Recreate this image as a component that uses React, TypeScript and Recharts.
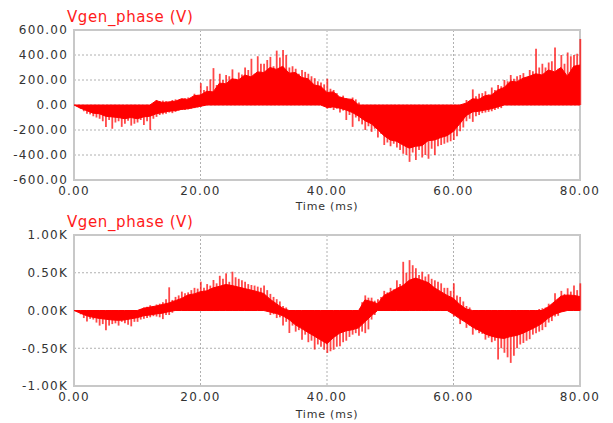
import { ComposedChart, Area, Bar, XAxis, YAxis, CartesianGrid, ReferenceArea } from 'recharts';

// sample instants, ms (one per ms, 0..80); extra spike samples sit half-way between them
const timeMs = Array.from({ length: 81 }, (_, i) => i);
const xTicks = [0, 20, 40, 60, 80];

// upper plot: Vgen_phase (V)
const topBandHi = [
  0, 0, 0, 0, 0, 0, 0, 0, 0, 0,
  0, 0, 0, 35, 20, 25, 30, 50, 45, 75,
  80, 110, 105, 175, 170, 210, 200, 240, 225, 265,
  260, 300, 285, 310, 255, 260, 220, 210, 160, 150,
  100, 105, 65, 50, 45, 0, 0, 0, 0, 0,
  0, 0, 0, 0, 0, 0, 0, 0, 0, 0,
  0, 0, 15, 50, 45, 75, 80, 120, 140, 190,
  185, 215, 230, 250, 240, 280, 265, 300, 230, 310,
  320,
];
const topBandLo = [
  0, -25, -45, -65, -70, -90, -95, -100, -110, -100,
  -110, -95, -90, -70, -60, -50, -45, -35, -30, -20,
  -10, 0, 0, 0, 0, 0, 0, 0, 0, 0,
  0, 0, 0, 0, 0, 0, 0, 0, 0, 0,
  -20, -15, -25, -40, -60, -90, -125, -150, -195, -245,
  -280, -290, -320, -345, -330, -325, -285, -280, -260, -245,
  -210, -150, -85, -55, -50, -40, -30, -15, 0, 0,
  0, 0, 0, 0, 0, 0, 0, 0, 0, 0,
  0,
];
const topSpikeHi = [
  0, 0, 0, 0, 0, 0, 0, 0, 0, 0,
  0, 0, 0, 40, 35, 25, 45, 50, 60, 90,
  175, 150, 295, 250, 240, 285, 260, 300, 370, 390,
  330, 385, 435, 440, 300, 290, 280, 250, 215, 180,
  210, 120, 60, 55, 60, 20, 0, 0, 0, 0,
  0, 0, 0, 0, 0, 0, 0, 0, 0, 0,
  0, 0, 40, 125, 90, 110, 140, 160, 200, 240,
  230, 255, 280, 450, 330, 340, 460, 400, 420, 400,
  528,
];
const topSpikeLo = [
  0, -30, -70, -90, -110, -175, -190, -130, -150, -165,
  -140, -160, -200, -95, -75, -60, -55, -40, -35, -25,
  -15, 0, 0, 0, 0, 0, 0, 0, 0, 0,
  0, 0, 0, 0, 0, 0, 0, 0, 0, 0,
  -30, -40, -60, -120, -175, -130, -200, -215, -260, -320,
  -330, -340, -390, -455, -440, -420, -430, -400, -320, -300,
  -280, -210, -130, -135, -80, -60, -50, -30, 0, 0,
  0, 0, 0, 0, 0, 0, 0, 0, 0, 0,
  0,
];
// spikes at 0.5, 1.5 ... 79.5 ms
const topMidSpikeHi = [
  0, 0, 0, 0, 0, 0, 0, 0, 0, 0,
  0, 0, 0, 30, 30, 40, 35, 55, 50, 80,
  120, 205, 160, 200, 230, 210, 245, 280, 250, 330,
  360, 310, 380, 400, 310, 250, 265, 230, 190, 165,
  130, 95, 75, 40, 45, 0, 0, 0, 0, 0,
  0, 0, 0, 0, 0, 0, 0, 0, 0, 0,
  0, 0, 30, 70, 95, 85, 120, 150, 190, 210,
  240, 220, 270, 300, 300, 350, 290, 330, 390, 410,
];
const topMidSpikeLo = [
  -10, -50, -75, -100, -130, -120, -140, -175, -125, -150,
  -120, -130, -110, -80, -70, -65, -45, -40, -30, -20,
  -5, 0, 0, 0, 0, 0, 0, 0, 0, 0,
  0, 0, 0, 0, 0, 0, 0, 0, 0, 0,
  -25, -30, -45, -80, -100, -155, -170, -190, -230, -300,
  -310, -360, -400, -380, -360, -400, -350, -330, -310, -290,
  -250, -180, -110, -90, -65, -55, -40, -25, 0, 0,
  0, 0, 0, 0, 0, 0, 0, 0, 0, 0,
];
const topTicks = [-600, -400, -200, 0, 200, 400, 600];

// lower plot: Vgen_phase (V)
const botBandHi = [
  0, 0, 0, 0, 0, 0, 0, 0, 0, 0,
  0, 30, 45, 60, 80, 100, 130, 160, 205, 220,
  250, 260, 300, 320, 345, 330, 310, 290, 270, 250,
  225, 150, 90, 30, 0, 0, 0, 0, 0, 0,
  0, 0, 0, 0, 0, 0, 140, 120, 90, 200,
  240, 290, 330, 400, 430, 400, 370, 300, 250, 200,
  160, 80, 20, 0, 0, 0, 0, 0, 0, 0,
  0, 0, 0, 0, 0, 50, 120, 190, 205, 200,
  185,
];
const botBandLo = [
  0, -35, -70, -90, -105, -115, -125, -130, -125, -110,
  -95, -70, -60, -45, -35, -15, 0, 0, 0, 0,
  0, 0, 0, 0, 0, 0, 0, 0, 0, 0,
  0, -20, -40, -70, -120, -190, -240, -290, -340, -390,
  -440, -360, -300, -270, -255, -230, -150, -70, 0, 0,
  0, 0, 0, 0, 0, 0, 0, 0, 0, 0,
  -50, -110, -160, -220, -260, -310, -340, -360, -370, -345,
  -330, -300, -260, -220, -170, -100, -50, -20, 0, 0,
  0,
];
const botSpikeHi = [
  0, 0, 0, 0, 0, 0, 0, 0, 0, 0,
  0, 40, 70, 80, 110, 307, 180, 250, 240, 300,
  382, 350, 404, 460, 492, 514, 420, 380, 338, 316,
  330, 220, 150, 60, 0, 0, 0, 0, 0, 0,
  0, 0, 0, 0, 0, 0, 200, 170, 150, 260,
  300, 400, 645, 667, 560, 514, 480, 400, 360, 300,
  360, 180, 60, 0, 0, 0, 0, 0, 0, 0,
  0, 0, 0, 0, 30, 90, 228, 260, 294, 330,
  360,
];
const botSpikeLo = [
  0, -50, -145, -120, -200, -263, -180, -200, -170, -210,
  -150, -110, -90, -80, -114, -60, 0, 0, 0, 0,
  0, 0, 0, 0, 0, 0, 0, 0, 0, 0,
  0, -60, -100, -200, -298, -280, -386, -420, -518, -480,
  -562, -520, -474, -400, -320, -333, -300, -120, 0, 0,
  0, 0, 0, 0, 0, 0, 0, 0, 0, 0,
  -80, -180, -230, -320, -300, -386, -420, -650, -560, -694,
  -500, -430, -380, -300, -260, -160, -80, 0, 0, 0,
  0,
];
const botMidSpikeHi = [
  0, 0, 0, 0, 0, 0, 0, 0, 0, 0,
  20, 50, 60, 90, 150, 140, 200, 230, 270, 290,
  300, 330, 360, 420, 380, 440, 400, 350, 330, 300,
  270, 180, 120, 40, 0, 0, 0, 0, 0, 0,
  0, 0, 0, 0, 0, 110, 170, 130, 180, 240,
  280, 350, 500, 600, 470, 450, 420, 380, 300, 260,
  200, 120, 40, 0, 0, 0, 0, 0, 0, 0,
  0, 0, 0, 20, 40, 80, 150, 220, 250, 270,
];
const botMidSpikeLo = [
  -20, -100, -110, -160, -180, -200, -170, -150, -190, -150,
  -120, -100, -75, -90, -60, -30, 0, 0, 0, 0,
  0, 0, 0, 0, 0, 0, 0, 0, 0, 0,
  -10, -50, -90, -150, -200, -260, -320, -400, -450, -520,
  -540, -480, -420, -350, -300, -280, -250, -60, 0, 0,
  0, 0, 0, 0, 0, 0, 0, 0, 0, 0,
  -70, -130, -200, -260, -310, -360, -400, -500, -620, -600,
  -450, -400, -320, -280, -220, -140, -70, -10, 0, 0,
];
const botTicks = [-1000, -500, 0, 500, 1000];

const tickStyle = { fontSize: 12, fill: '#333', fontFamily: 'DejaVu Sans', letterSpacing: 1.2 };

interface Row {
  t: number;
  band?: number[];
  spike: number[];
}

function buildRows(hi: number[], lo: number[], spHi: number[], spLo: number[], midHi: number[], midLo: number[]) {
  const rows: Row[] = [];
  timeMs.forEach((t, i) => {
    rows.push({
      t,
      band: [lo[i] ?? 0, hi[i] ?? 0],
      spike: [Math.min(spLo[i] ?? 0, lo[i] ?? 0), Math.max(spHi[i] ?? 0, hi[i] ?? 0)],
    });
    if (i < midHi.length) {
      rows.push({ t: t + 0.5, spike: [midLo[i] ?? 0, midHi[i] ?? 0] });
    }
  });
  return rows;
}

interface ScopeProps {
  rows: Row[];
  yTicks: number[];
  fmt: (v: number) => string;
  height: number;
  xAxisHeight: number;
}

function Scope({ rows, yTicks, fmt, height, xAxisHeight }: ScopeProps) {
  const yMin = yTicks[0];
  const yMax = yTicks[yTicks.length - 1];
  return (
    <ComposedChart width={613} height={height} data={rows} margin={{ top: 30, right: 33, bottom: 0, left: 0 }}>
      <CartesianGrid stroke="#b0b0b0" strokeDasharray="2 2" />
      <XAxis
        dataKey="t"
        type="number"
        domain={[0, 80]}
        ticks={xTicks}
        tickFormatter={(v: number) => v.toFixed(2)}
        axisLine={false}
        tickLine={false}
        tickSize={4}
        tick={tickStyle}
        height={xAxisHeight}
        label={{ value: 'Time (ms)', position: 'insideBottom', offset: 5, style: { fontSize: 11, fill: '#333', fontFamily: 'DejaVu Sans', letterSpacing: 0.8 } }}
      />
      <YAxis
        type="number"
        domain={[yMin, yMax]}
        ticks={yTicks}
        tickFormatter={fmt}
        axisLine={false}
        tickLine={false}
        tickSize={4}
        width={74}
        tick={tickStyle}
        interval={0}
      />
      <ReferenceArea x1={0} x2={80} y1={yMin} y2={yMax} fill="#fff" fillOpacity={0} stroke="#c8c8c8" strokeWidth={2} />
      <Bar dataKey="spike" barSize={1.8} fill="rgba(255, 0, 0, 0.72)" isAnimationActive={false} />
      <Area
        type="linear"
        dataKey="band"
        connectNulls
        stroke="#ff0000"
        strokeWidth={1}
        fill="#ff0000"
        fillOpacity={1}
        dot={false}
        activeDot={false}
        isAnimationActive={false}
      />
    </ComposedChart>
  );
}

const titleStyle: React.CSSProperties = {
  position: 'absolute',
  left: 67,
  fontFamily: 'DejaVu Sans',
  fontSize: 15,
  color: '#ff1a1a',
  letterSpacing: 0.6,
  lineHeight: '16px',
};

export default function App() {
  const topRows = buildRows(topBandHi, topBandLo, topSpikeHi, topSpikeLo, topMidSpikeHi, topMidSpikeLo);
  const botRows = buildRows(botBandHi, botBandLo, botSpikeHi, botSpikeLo, botMidSpikeHi, botMidSpikeLo);
  return (
    <div style={{ position: 'absolute', left: 0, top: 0, width: 613, height: 423, background: '#fff', overflow: 'hidden' }}>
      <div style={{ ...titleStyle, top: 9 }}>Vgen_phase (V)</div>
      <div style={{ position: 'absolute', left: 0, top: 0 }}>
        <Scope rows={topRows} yTicks={topTicks} fmt={(v) => v.toFixed(2)} height={215} xAxisHeight={35} />
      </div>
      <div style={{ ...titleStyle, top: 214 }}>Vgen_phase (V)</div>
      <div style={{ position: 'absolute', left: 0, top: 205 }}>
        <Scope rows={botRows} yTicks={botTicks} fmt={(v) => (v / 1000).toFixed(2) + 'K'} height={218} xAxisHeight={37} />
      </div>
    </div>
  );
}
